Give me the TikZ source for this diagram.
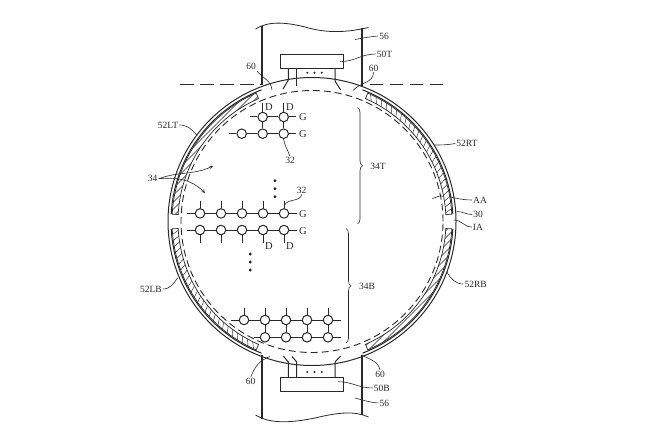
\documentclass[tikz,border=0pt]{standalone}
\usepackage{fontspec}
\setmainfont{Liberation Serif}
\usetikzlibrary{arrows,calc,decorations.pathreplacing}
\definecolor{ink}{gray}{0.16}
\tikzset{%
	pix/.style      = {draw=ink, circle, fill=white, line width=1pt, inner sep=0pt, minimum size=9.5pt},
	waypoint/.style = {coordinate},
	wire/.style     = {ink, line width=1pt},
	lbl/.style      = {text=ink, inner sep=1pt, font=\fontsize{9.5}{9.5}\selectfont},
	sig/.style      = {text=ink, inner sep=0pt, font=\fontsize{10.5}{10.5}\selectfont},
	lead/.style     = {ink, line width=0.6pt},
	hatch/.style    = {ink, line width=0.45pt},
	rim/.style      = {ink, line width=1pt},
	strap/.style    = {ink, line width=1.3pt},
	chip/.style     = {draw=ink, rectangle, line width=1pt, minimum width=63pt, minimum height=13.5pt, inner sep=0pt},
	pin/.style      = {ink, line width=1pt},
	dotmark/.style  = {circle, fill=ink, inner sep=0pt, minimum size=#1},
	span/.style     = {ink, line width=0.6pt, decorate, decoration={brace, amplitude=5pt}},
}
\begin{document}
\begin{tikzpicture}[x=1pt, y=-1pt, node distance = 21pt]
	\useasboundingbox (0,0) rectangle (650,433);
	\coordinate (c) at (312,221.5);
	
	% leader under the band
	\coordinate (eaa) at (432,198.5);
	\node[lbl] (aa) at (480,200) {AA};
	\draw[lead] (eaa) to[out=10,in=175] (442,196) to[out=-5,in=180] (aa.west);
	
	% display
	\begin{scope}[shift={(c)}, y=1pt]
		\draw[rim] (0,0) circle [radius=144pt];
		\draw[ink, line width=0.9pt, dash pattern=on 7pt off 4pt] (0,0) circle [radius=131pt];
		\foreach \a/\b in {3/69, 111/177, 183/249, -69/-3} {
			\draw[rim] (\a:141) arc [start angle=\a, end angle=\b, radius=141pt];
		}
		% bands
		\foreach \a/\b in {3/66.5, 113.5/177, 183/246.5, -66.5/-3} {
			\draw[fill=white, draw=none] (\a:134) arc [start angle=\a, end angle=\b, radius=134pt] -- (\b:140) arc [start angle=\b, end angle=\a, radius=140pt] -- cycle;
		}
		\foreach \a/\b in {113.5/177, -66.5/-3} {
			\begin{scope}
				\clip (\a:134) arc [start angle=\a, end angle=\b, radius=134pt] -- (\b:140) arc [start angle=\b, end angle=\a, radius=140pt] -- cycle;
				\foreach \d in {-340,-333,...,340} {
					\draw[hatch] (\d-200,-200) -- (\d+200,200);
				}
			\end{scope}
		}
		\foreach \a/\b in {3/66.5, 183/246.5} {
			\begin{scope}
				\clip (\a:134) arc [start angle=\a, end angle=\b, radius=134pt] -- (\b:140) arc [start angle=\b, end angle=\a, radius=140pt] -- cycle;
				\foreach \t in {0,2.5,...,72} {
					\draw[hatch] (\a-2+\t:133) -- (\a+\t:141);
				}
			\end{scope}
		}
		\foreach \a/\b in {3/66.5, 113.5/177, 183/246.5, -66.5/-3} {
			\draw[ink, line width=0.7pt] (\a:134) arc [start angle=\a, end angle=\b, radius=134pt] -- (\b:140) arc [start angle=\b, end angle=\a, radius=140pt] -- cycle;
		}
	\end{scope}
	
	% straps
	\coordinate (st1) at (262,26);
	\coordinate (st2) at (362,28);
	\coordinate (st3) at (262,85);
	\coordinate (st4) at (362,87);
	\coordinate (sb1) at (262,355);
	\coordinate (sb2) at (362,355);
	\coordinate (sb3) at (262,418.5);
	\coordinate (sb4) at (362,415);
	\draw[strap] (st1) -- (st3);
	\draw[strap] (st2) -- (st4);
	\draw[strap] (sb1) -- (sb3);
	\draw[strap] (sb2) -- (sb4);
	\draw[lead, line width=0.8pt] (255.5,29) .. controls (268,21) and (285,22) .. (305,27) .. controls (325,33) and (345,33) .. (368.5,27.5);
	\draw[lead, line width=0.8pt] (255.5,415) .. controls (270,424) and (290,423) .. (315,418) .. controls (340,412) and (355,411) .. (368.5,417);
	
	% cut line
	\coordinate (cl1) at (180,84.7);
	\coordinate (cl2) at (261,84.7);
	\coordinate (cl3) at (367,84.7);
	\coordinate (cl4) at (443,84.7);
	\draw[strap, dash pattern=on 13.5pt off 6.5pt] (cl1) -- (cl2);
	\draw[strap, dash pattern=on 13.5pt off 6.5pt] (cl4) -- (cl3);
	
	% chips
	\node[chip] (chipt) at (311.8,61.7) {};
	\node[chip] (chipb) at (311.8,384.4) {};
	\draw[pin] (288.3,68.4) -- (288.3,80) -- (283,89);
	\draw[pin] (296.7,68.4) -- (296.7,86);
	\draw[pin] (335,68.4) -- (335,81) -- (340.7,90);
	\draw[pin] (288.3,377.6) -- (288.3,362) -- (283.3,356);
	\draw[pin] (296.7,377.6) -- (296.7,362) -- (292,356.5);
	\draw[pin] (335,377.6) -- (335,362) -- (340.7,356);
	\foreach \x in {307.3,314.5,321.7} {
		\node[dotmark=2.2pt] at (\x,72.7) {};
		\node[dotmark=2.2pt] at (\x,372) {};
	}
	
	% upper pixels
	\node[pix] (ab) at (262.7,117) {};
	\node[pix,right of=ab] (ac) {};
	\node[pix] (ba) at (241.7,133.7) {};
	\node[pix,right of=ba] (bb) {};
	\node[pix,right of=bb] (bc) {};
	\node[waypoint,left of=ab,node distance=12.7pt] (al) {};
	\node[waypoint,right of=ac,node distance=12.7pt] (ar) {};
	\node[waypoint,left of=ba,node distance=12.4pt] (bl) {};
	\node[waypoint,right of=bc,node distance=12.7pt] (br) {};
	\node[waypoint,above of=ab,node distance=13.7pt] (au) {};
	\node[waypoint,above of=ac,node distance=13.7pt] (av) {};
	\draw[wire] (al) -- (ab) -- (ac) -- (ar);
	\draw[wire] (bl) -- (ba) -- (bb) -- (bc) -- (br);
	\draw[wire] (ab) -- (au);
	\draw[wire] (ac) -- (av);
	\draw[wire] (ab) -- (bb);
	\draw[wire] (ac) -- (bc);
	\node[sig] at (269,106.7) {D};
	\node[sig] at (290,106.7) {D};
	\node[sig] (ga) at (303,117.5) {G};
	\node[sig] (gb) at (303,134) {G};
	
	% middle pixels
	\node[pix] (ca) at (200,213.4) {};
	\node[pix,right of=ca] (cb) {};
	\node[pix,right of=cb] (cc) {};
	\node[pix,right of=cc] (cd) {};
	\node[pix,right of=cd] (ce) {};
	\node[pix] (da) at (200,230) {};
	\node[pix,right of=da] (db) {};
	\node[pix,right of=db] (dc) {};
	\node[pix,right of=dc] (dd) {};
	\node[pix,right of=dd] (de) {};
	\node[waypoint,left of=ca,node distance=13.3pt] (cl) {};
	\node[waypoint,right of=ce,node distance=12.7pt] (cr) {};
	\node[waypoint,left of=da,node distance=13.3pt] (dl) {};
	\node[waypoint,right of=de,node distance=12.7pt] (dr) {};
	\draw[wire] (cl) -- (ca) -- (cb) -- (cc) -- (cd) -- (ce) -- (cr);
	\draw[wire] (dl) -- (da) -- (db) -- (dc) -- (dd) -- (de) -- (dr);
	\foreach \n in {a,b,c,d,e} {
		\node[waypoint,above of=c\n,node distance=12.5pt] (cu\n) {};
		\node[waypoint,below of=d\n,node distance=12.7pt] (dv\n) {};
		\draw[wire] (c\n) -- (cu\n);
		\draw[wire] (d\n) -- (dv\n);
	}
	\node[sig] at (269,246) {D};
	\node[sig] at (290,246) {D};
	\node[sig] (gc) at (303,213.7) {G};
	\node[sig] (gd) at (303,231) {G};
	
	% lower pixels
	\node[pix] (ea) at (244,320) {};
	\node[pix,right of=ea] (eb) {};
	\node[pix,right of=eb] (ec) {};
	\node[pix,right of=ec] (ed) {};
	\node[pix,right of=ed] (ee) {};
	\node[pix] (fb) at (265,337.3) {};
	\node[pix,right of=fb] (fc) {};
	\node[pix,right of=fc] (fd) {};
	\node[pix,right of=fd] (fe) {};
	\node[waypoint,left of=ea,node distance=13pt] (el) {};
	\node[waypoint,right of=ee,node distance=12.7pt] (er) {};
	\node[waypoint,left of=fb,node distance=11pt] (fl) {};
	\node[waypoint,right of=fe,node distance=12.7pt] (fr) {};
	\draw[wire] (el) -- (ea) -- (eb) -- (ec) -- (ed) -- (ee) -- (er);
	\draw[wire] (fl) -- (fb) -- (fc) -- (fd) -- (fe) -- (fr);
	\foreach \n in {a,b,c,d,e} {
		\node[waypoint,above of=e\n,node distance=12.3pt] (eu\n) {};
		\draw[wire] (e\n) -- (eu\n);
	}
	\foreach \n in {b,c,d,e} {
		\draw[wire] (e\n) -- (f\n);
	}
	
	% dots
	\foreach \y in {180.7,188.7,196.7} {
		\node[dotmark=3.2pt] at (275,\y) {};
	}
	\foreach \y in {254,262,270} {
		\node[dotmark=3.2pt] at (250.3,\y) {};
	}
	
	% braces
	\coordinate (bt1) at (357.5,107.5);
	\coordinate (bt2) at (357.5,224);
	\coordinate (bb1) at (346,228.5);
	\coordinate (bb2) at (346,343);
	\draw[span] (bt1) -- (bt2);
	\draw[span] (bb1) -- (bb2);
	\node[lbl] (tt) at (378,166) {34T};
	\node[lbl] (tb) at (367,286) {34B};
	
	% labels
	\node[lbl] (s1) at (384,36) {56};
	\node[lbl] (s2) at (384.3,403) {56};
	\node[lbl] (ct) at (384.5,54) {50T};
	\node[lbl] (cb2) at (381.7,388) {50B};
	\node[lbl] (h1) at (251,66.7) {60};
	\node[lbl] (h2) at (373.5,68) {60};
	\node[lbl] (h3) at (250.7,381.7) {60};
	\node[lbl] (h4) at (380,374.5) {60};
	\node[lbl] (lt) at (168,125) {52LT};
	\node[lbl] (rt) at (467,143.5) {52RT};
	\node[lbl] (lb) at (151,289) {52LB};
	\node[lbl] (rb) at (475.7,284) {52RB};
	\node[lbl] (n30) at (478,214.5) {30};
	\node[lbl] (ia) at (478,227) {IA};
	\node[lbl] (n34) at (152.7,178.7) {34};
	\node[lbl] (n32a) at (290,160.7) {32};
	\node[lbl] (n32b) at (301.7,190) {32};
	
	\draw[lead] (s1.west) to[out=185,in=10] (355,39.5);
	\draw[lead] (s2.west) to[out=175,in=-15] (355,398);
	\draw[lead] (ct.west) to[out=180,in=0] (340,61.7);
	\draw[lead] (cb2.west) to[out=180,in=0] (338,381.7);
	\draw[lead] (h1.south east) to[out=-50,in=95] (272,90);
	\draw[lead] (h2.south) to[out=-90,in=50] (353,90.5);
	\draw[lead] (h3.north) to[out=70,in=200] (270,356.5);
	\draw[lead] (h4.north) to[out=100,in=-30] (361.7,355);
	\draw[lead] (lt.east) to[out=0,in=130] (196.7,135);
	\draw[lead] (rt.west) to[out=190,in=0] (434,145);
	\draw[lead] (lb.east) to[out=0,in=-125] (177.7,277.7);
	\draw[lead] (rb.west) to[out=180,in=-60] (446.7,271.7);
	\draw[lead] (n30.west) to[out=180,in=0] (456.7,211.5);
	\draw[lead] (ia.west) to[out=180,in=0] (454,220);
	\draw[lead] (n32a.north) to[out=110,in=-80] (283.5,139);
	\draw[lead] (n32b.south) to[out=-100,in=60] (284.5,205);
	\draw[lead,-stealth] (n34.east) to[out=20,in=-155] (213,166);
	\draw[lead,-stealth] (n34.east) to[out=5,in=135] (205,193);
\end{tikzpicture}
\end{document}
